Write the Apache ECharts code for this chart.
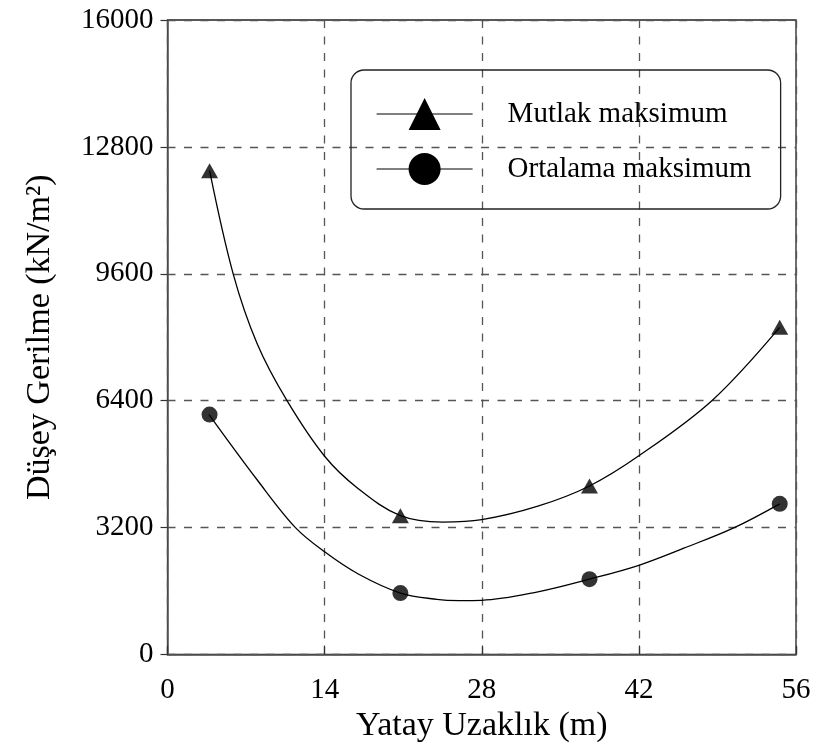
<!DOCTYPE html>
<html>
<head>
<meta charset="utf-8">
<script src="https://cdn.jsdelivr.net/npm/echarts@6/dist/echarts.min.js"></script>
<style>
html,body{margin:0;padding:0;background:#fff;}
#chart{width:820px;height:749px;}
</style>
</head>
<body>
<div id="chart"></div>
<script>
// Measured data points
const pointX = [3.75, 20.75, 37.6, 54.55];
const mutlakY = [12200, 3500, 4250, 8250];
const ortalamaY = [6050, 1550, 1900, 3800];

// Fitted curves
const mutlakCurveX = [3.75, 5.85, 8, 10.65, 14, 17, 20.75, 24.5, 28, 33, 37.6, 42, 48.5, 54.55];
const mutlakCurveY = [12200, 9600, 7830, 6400, 5000, 4180, 3500, 3340, 3400, 3740, 4250, 5010, 6400, 8250];
const ortalamaCurveX = [3.7, 8, 11.4, 14, 17, 20.75, 24, 26, 28, 33, 37.6, 42, 46, 50.5, 54.55];
const ortalamaCurveY = [6050, 4400, 3200, 2590, 2030, 1550, 1390, 1360, 1367, 1580, 1900, 2250, 2680, 3200, 3800];

const xTicks = [0, 14, 28, 42, 56];
const yTicks = [0, 3200, 6400, 9600, 12800, 16000];
const names = ['Mutlak maksimum', 'Ortalama maksimum'];

const zip = (xs, ys) => xs.map((x, i) => [x, ys[i]]);
const font = 'Liberation Serif';

const chart = echarts.init(document.getElementById('chart'));
chart.setOption({
  animation: false,
  backgroundColor: '#fff',
  grid: {
    left: 167.5, right: 24, top: 20, bottom: 94.5,
    show: true, borderColor: '#222', borderWidth: 1.3, backgroundColor: 'transparent'
  },
  legend: {
    data: names,
    orient: 'vertical',
    left: 351, top: 70,
    padding: [28, 29, 24, 25],
    itemWidth: 96, itemHeight: 40, itemGap: 23,
    borderColor: '#222', borderWidth: 1.3, borderRadius: 13,
    textStyle: { fontFamily: font, fontSize: 29, color: '#000', padding: [0, 0, 0, 30] },
    itemStyle: { color: '#000' },
    lineStyle: { color: '#000', width: 1.2 }
  },
  xAxis: {
    type: 'value', min: xTicks[0], max: xTicks[xTicks.length - 1], interval: 14,
    name: 'Yatay Uzaklık (m)', nameLocation: 'middle', nameGap: 52,
    nameTextStyle: { fontFamily: font, fontSize: 34, color: '#000' },
    axisLine: { lineStyle: { color: '#555', width: 1.5 } },
    axisTick: { inside: true, length: 9, lineStyle: { color: '#333', width: 1.2 } },
    axisLabel: { fontFamily: font, fontSize: 29, color: '#000', margin: 21, formatter: v => String(v) },
    splitLine: { show: true, lineStyle: { color: '#555', width: 1.3, type: [8, 8.5] } }
  },
  yAxis: {
    type: 'value', min: yTicks[0], max: yTicks[yTicks.length - 1], interval: 3200,
    name: 'Düşey Gerilme (kN/m²)', nameLocation: 'middle', nameGap: 110,
    nameTextStyle: { fontFamily: font, fontSize: 34, color: '#000' },
    axisLine: { lineStyle: { color: '#555', width: 1.5 } },
    axisTick: { inside: false, length: 7, lineStyle: { color: '#333', width: 1.2 } },
    axisLabel: { fontFamily: font, fontSize: 29, color: '#000', margin: 14, formatter: v => String(v) },
    splitLine: { show: true, lineStyle: { color: '#555', width: 1.3, type: [8, 8.5] } }
  },
  series: [
    {
      name: names[0], type: 'line', data: zip(mutlakCurveX, mutlakCurveY),
      smooth: 0.35, symbol: 'triangle', showSymbol: false,
      lineStyle: { color: '#000', width: 1.3 }, itemStyle: { color: '#000' }, z: 3
    },
    {
      name: names[1], type: 'line', data: zip(ortalamaCurveX, ortalamaCurveY),
      smooth: 0.35, symbol: 'circle', showSymbol: false,
      lineStyle: { color: '#000', width: 1.3 }, itemStyle: { color: '#000' }, z: 3
    },
    {
      name: names[0], type: 'scatter', data: zip(pointX, mutlakY),
      symbol: 'triangle', symbolSize: [17, 15], itemStyle: { color: '#000' }, z: 4
    },
    {
      name: names[1], type: 'scatter', data: zip(pointX, ortalamaY),
      symbol: 'circle', symbolSize: 16, itemStyle: { color: '#000' }, z: 4
    }
  ]
});
</script>
</body>
</html>
